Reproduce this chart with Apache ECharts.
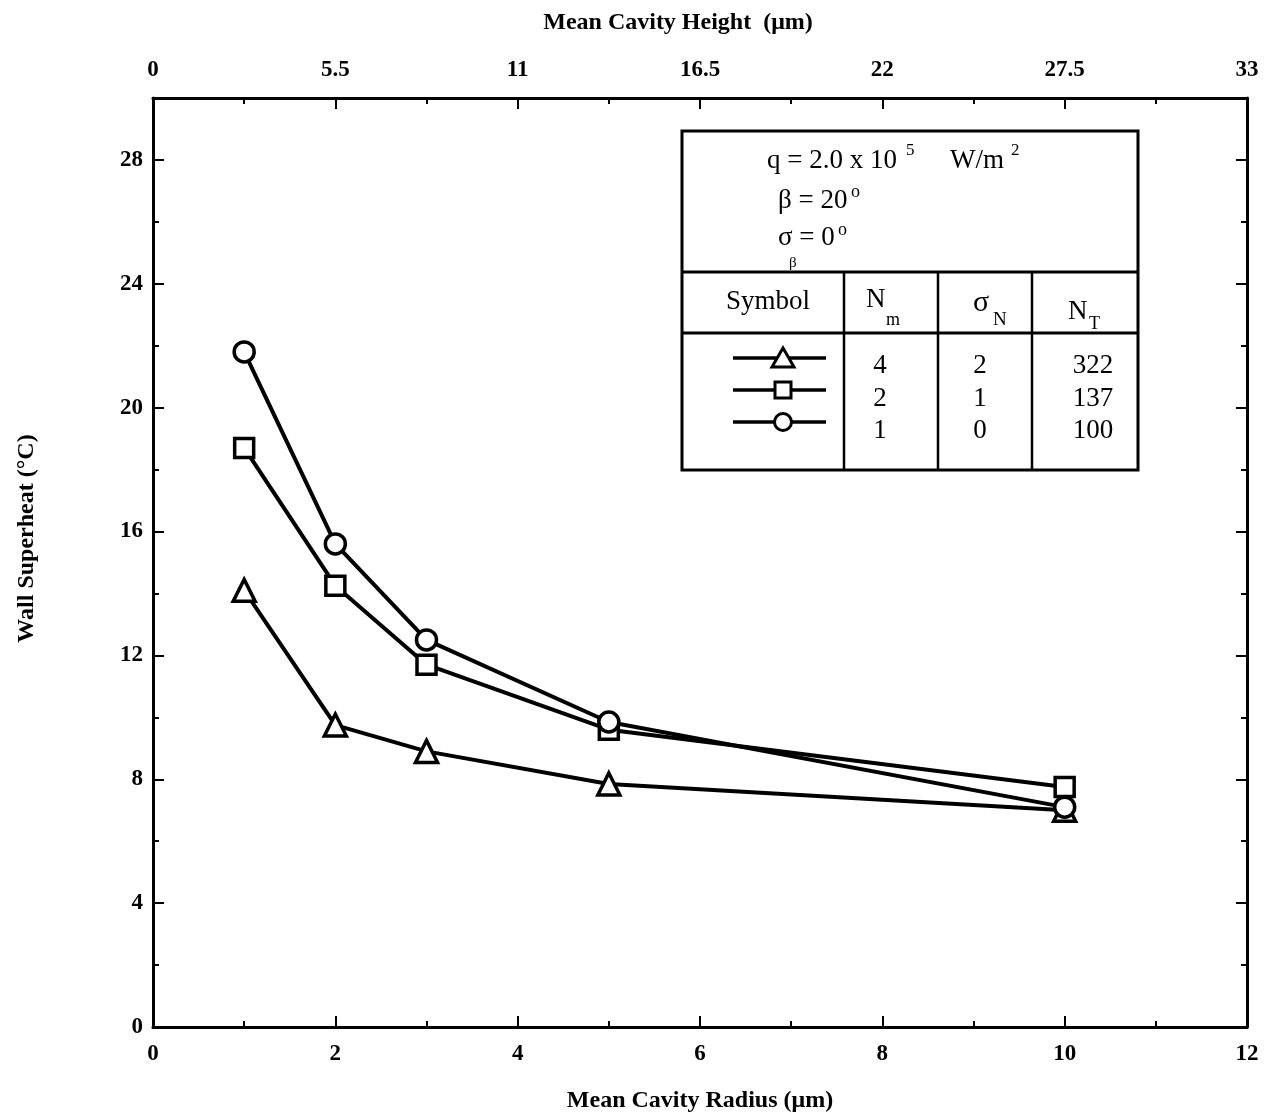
<!DOCTYPE html>
<html>
<head>
<meta charset="utf-8">
<script src="https://cdn.jsdelivr.net/npm/echarts@6/dist/echarts.min.js"></script>
<style>
  html, body { margin: 0; padding: 0; background: #fff; }
  #chart { width: 1277px; height: 1118px; }
</style>
</head>
<body>
<div id="chart"></div>
<script>
// mean cavity radius (um)
var radius = [1, 2, 3, 5, 10];
// wall superheat (C)
var triangleVals = [14.1, 9.75, 8.9, 7.85, 7.0];
var squareVals = [18.7, 14.25, 11.7, 9.6, 7.75];
var circleVals = [21.8, 15.6, 12.5, 9.85, 7.1];

// legend table
var nmVals = ["4", "2", "1"];
var sigmaNVals = ["2", "1", "0"];
var ntVals = ["322", "137", "100"];

var serif = "Liberation Serif";
var myChart = echarts.init(document.getElementById("chart"));

function pairs(vals) {
  return radius.map(function (r, i) { return [r, vals[i]]; });
}

function lineSeries(name, symbol, size, vals) {
  return {
    name: name,
    type: "line",
    data: pairs(vals),
    symbol: symbol,
    symbolSize: size,
    showAllSymbol: true,
    lineStyle: { color: "#000", width: 4 },
    itemStyle: { color: "#fff", borderColor: "#000", borderWidth: 3.5 },
    animation: false
  };
}

// table geometry (decoration only)
var tL = 682, tR = 1138, tT = 131, tB = 470;
var hLine1 = 272, hLine2 = 333;
var cols = [844, 938, 1032];
var rowY = [366, 399, 431];
var legY = [358, 390, 422];

var graphics = [
  { type: "rect", shape: { x: tL, y: tT, width: tR - tL, height: tB - tT }, style: { fill: "#fff", stroke: "#000", lineWidth: 3 }, z: 100 },
  { type: "line", shape: { x1: tL, y1: hLine1, x2: tR, y2: hLine1 }, style: { stroke: "#000", lineWidth: 3 }, z: 101 },
  { type: "line", shape: { x1: tL, y1: hLine2, x2: tR, y2: hLine2 }, style: { stroke: "#000", lineWidth: 3 }, z: 101 }
];
cols.forEach(function (cx) {
  graphics.push({ type: "line", shape: { x1: cx, y1: hLine1, x2: cx, y2: tB }, style: { stroke: "#000", lineWidth: 2.5 }, z: 101 });
});

function txt(x, y, s, size, align) {
  graphics.push({
    type: "text", x: x, y: y, z: 102,
    style: { text: s, font: size + "px '" + serif + "'", fill: "#000", textAlign: align || "left", textVerticalAlign: "middle" }
  });
}

// header
txt(767, 161, "q = 2.0 x 10", 27);
txt(906, 151, "5", 17);
txt(950, 161, "W/m", 27);
txt(1011, 151, "2", 17);
txt(778, 201, "β = 20", 27);
txt(851, 192, "o", 18);
txt(778, 238, "σ = 0", 27);
txt(838, 230, "o", 18);
txt(789, 263, "β", 15);
txt(768, 302, "Symbol", 27, "center");
txt(866, 300, "N", 27);
txt(886, 320, "m", 18);
txt(973, 303, "σ", 30);
txt(993, 320, "N", 19);
txt(1068, 312, "N", 27);
txt(1089, 324, "T", 18);

for (var i = 0; i < 3; i++) {
  txt(880, rowY[i], nmVals[i], 27, "center");
  txt(980, rowY[i], sigmaNVals[i], 27, "center");
  txt(1093, rowY[i], ntVals[i], 27, "center");
  graphics.push({ type: "line", shape: { x1: 733, y1: legY[i], x2: 826, y2: legY[i] }, style: { stroke: "#000", lineWidth: 3.5 }, z: 101 });
}
graphics.push({ type: "polygon", shape: { points: [[783, 348], [772, 367], [794, 367]] }, style: { fill: "#fff", stroke: "#000", lineWidth: 3 }, z: 103 });
graphics.push({ type: "rect", shape: { x: 775, y: 382, width: 16, height: 16 }, style: { fill: "#fff", stroke: "#000", lineWidth: 3 }, z: 103 });
graphics.push({ type: "circle", shape: { cx: 783, cy: 422, r: 8.5 }, style: { fill: "#fff", stroke: "#000", lineWidth: 3 }, z: 103 });

var labelStyle = { color: "#000", fontFamily: serif, fontWeight: "bold", fontSize: 23 };
var nameStyle = { color: "#000", fontFamily: serif, fontWeight: "bold", fontSize: 24 };
var lineStyle = { color: "#000", width: 3 };

var option = {
  backgroundColor: "#fff",
  animation: false,
  grid: { left: 153, right: 30, top: 98, bottom: 88 },
  xAxis: [
    {
      type: "value", position: "bottom", min: 0, max: 12, interval: 2,
      name: "Mean Cavity Radius (μm)", nameLocation: "middle", nameGap: 62, nameTextStyle: nameStyle,
      axisLine: { show: true, onZero: false, lineStyle: lineStyle },
      axisTick: { inside: true, length: 11, lineStyle: { color: "#000", width: 2 } },
      minorTick: { show: true, splitNumber: 2, length: 6, lineStyle: { color: "#000", width: 2 } },
      axisLabel: Object.assign({ margin: 16 }, labelStyle),
      splitLine: { show: false }
    },
    {
      type: "value", position: "top", min: 0, max: 33, interval: 5.5,
      name: "Mean Cavity Height  (μm)", nameLocation: "middle", nameGap: 63, nameTextStyle: Object.assign({ padding: [0, 44, 0, 0] }, nameStyle),
      axisLine: { show: true, onZero: false, lineStyle: lineStyle },
      axisTick: { inside: true, length: 11, lineStyle: { color: "#000", width: 2 } },
      minorTick: { show: true, splitNumber: 2, length: 6, lineStyle: { color: "#000", width: 2 } },
      axisLabel: Object.assign({ margin: 16 }, labelStyle),
      splitLine: { show: false }
    }
  ],
  yAxis: [
    {
      type: "value", position: "left", min: 0, max: 30, interval: 4,
      name: "Wall Superheat (°C)", nameLocation: "middle", nameGap: 114, nameRotate: 90,
      nameTextStyle: Object.assign({ padding: [0, 0, 0, 48] }, nameStyle),
      axisLine: { show: true, onZero: false, lineStyle: lineStyle },
      axisTick: { inside: true, length: 11, lineStyle: { color: "#000", width: 2 } },
      minorTick: { show: true, splitNumber: 2, length: 6, lineStyle: { color: "#000", width: 2 } },
      axisLabel: Object.assign({ margin: 10, showMaxLabel: false }, labelStyle),
      splitLine: { show: false }
    },
    {
      type: "value", position: "right", min: 0, max: 30, interval: 4,
      axisLine: { show: true, onZero: false, lineStyle: lineStyle },
      axisTick: { inside: true, length: 11, lineStyle: { color: "#000", width: 2 } },
      minorTick: { show: true, splitNumber: 2, length: 6, lineStyle: { color: "#000", width: 2 } },
      axisLabel: { show: false },
      splitLine: { show: false }
    }
  ],
  series: [
    lineSeries("triangle", "triangle", 22, triangleVals),
    lineSeries("square", "rect", 19, squareVals),
    lineSeries("circle", "circle", 20, circleVals)
  ],
  graphic: graphics
};
myChart.setOption(option);
</script>
</body>
</html>
